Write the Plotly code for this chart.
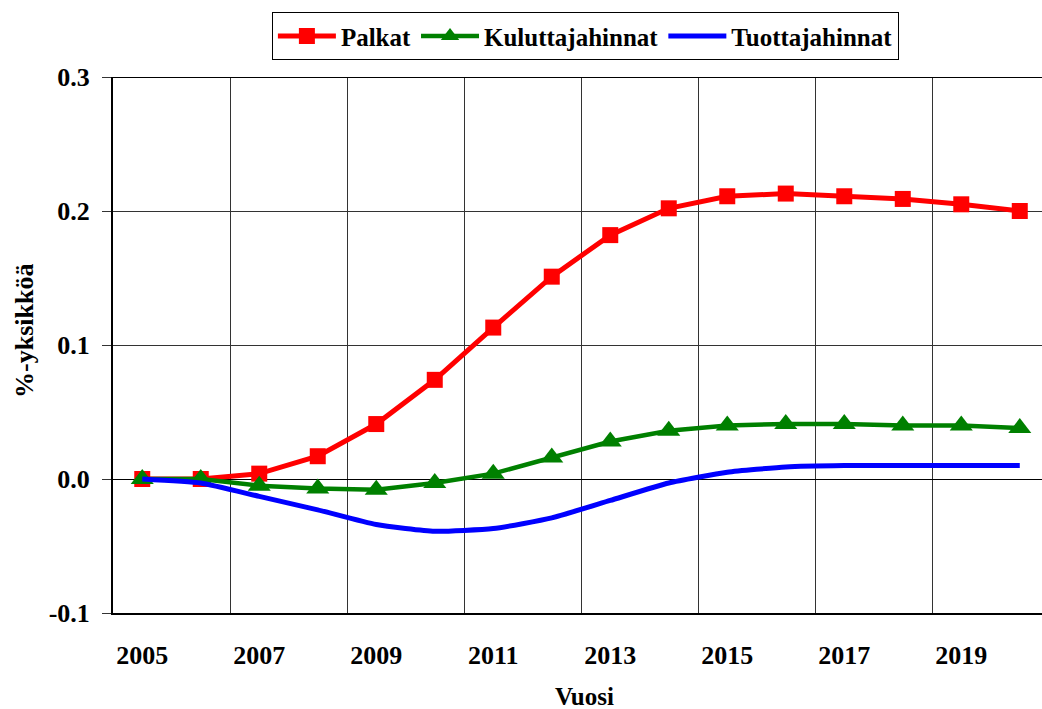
import plotly.graph_objects as go

years = [str(y) for y in range(2005, 2021)]
palkat = [0.000, 0.000, 0.004, 0.017, 0.041, 0.074, 0.113, 0.151, 0.182, 0.202,
          0.211, 0.213, 0.211, 0.209, 0.205, 0.200]
kuluttaja = [0.000, 0.000, -0.005, -0.007, -0.008, -0.003, 0.004, 0.016, 0.028, 0.036,
             0.040, 0.041, 0.041, 0.040, 0.040, 0.038]
tuottaja = [0.000, -0.003, -0.013, -0.023, -0.034, -0.039, -0.037, -0.029, -0.016, -0.003,
            0.005, 0.009, 0.010, 0.010, 0.010, 0.010]
x_idx = list(range(len(years)))
tick_idx = x_idx[::2]
tick_text = years[::2]
y_ticks = [-0.1, 0.0, 0.1, 0.2, 0.3]

FONT = "Liberation Serif"
BOLD = dict(family=FONT, color="black", weight="bold")

fig = go.Figure()
fig.add_trace(go.Scatter(
    x=x_idx, y=palkat, name="Palkat", mode="lines+markers",
    line=dict(color="#FF0000", width=5),
    marker=dict(symbol="square", size=16, color="#FF0000"),
))
fig.add_trace(go.Scatter(
    x=x_idx, y=kuluttaja, name="Kuluttajahinnat", mode="lines+markers",
    line=dict(color="#008000", width=4.5),
    marker=dict(symbol="triangle-up", size=20, color="#008000"),
))
fig.add_trace(go.Scatter(
    x=x_idx, y=tuottaja, name="Tuottajahinnat", mode="lines",
    line=dict(color="#0000FF", width=5, shape="spline", smoothing=0.5),
))

fig.update_layout(
    width=1042, height=709,
    margin=dict(l=113, r=0, t=77, b=96, autoexpand=False),
    paper_bgcolor="white", plot_bgcolor="white",
    font=dict(family=FONT, size=24, color="black"),
    showlegend=True,
    legend=dict(
        orientation="h", x=0.5085, xanchor="center", y=1.121, yanchor="top",
        bordercolor="black", borderwidth=1, bgcolor="white",
        font=dict(size=25, **BOLD),
        itemwidth=58, tracegroupgap=0,
    ),
    xaxis=dict(
        range=[-0.5, 15.38], automargin=False,
        tickmode="array", tickvals=tick_idx, ticktext=tick_text,
        tickfont=dict(size=26, **BOLD),
        ticks="", showgrid=False, zeroline=False,
        showline=True, linecolor="black", linewidth=2,
        ticklabelstandoff=18,
        minor=dict(tickmode="linear", tick0=-0.5, dtick=2, showgrid=True,
                   gridcolor="#333333", gridwidth=1, ticks=""),
    ),
    yaxis=dict(
        range=[-0.1, 0.3], automargin=False,
        tickmode="array", tickvals=y_ticks, ticktext=[f"{v:.1f}" for v in y_ticks],
        tickfont=dict(size=26, **BOLD),
        ticks="outside", ticklen=9, tickcolor="#333333", tickwidth=1,
        ticklabelstandoff=7,
        showgrid=True, gridcolor="#333333", gridwidth=1,
        zeroline=True, zerolinecolor="black", zerolinewidth=1,
        showline=True, linecolor="black", linewidth=2,
    ),
    shapes=[dict(type="line", xref="paper", yref="y", x0=0, x1=1, y0=0.3, y1=0.3,
                 line=dict(color="black", width=2), layer="above")],
    annotations=[
        dict(text="Vuosi", xref="paper", yref="paper", x=0.508, y=-0.1567,
             xanchor="center", yanchor="middle", showarrow=False,
             font=dict(size=25, **BOLD)),
        dict(text="%-yksikköä", xref="paper", yref="paper", x=-0.096, y=0.526,
             xanchor="center", yanchor="middle", showarrow=False, textangle=-90,
             font=dict(size=26, **BOLD)),
    ],
)

fig.write_html("out.html", config={"displayModeBar": False},
               post_script="document.body.style.margin='0px';document.body.style.overflow='hidden';")
